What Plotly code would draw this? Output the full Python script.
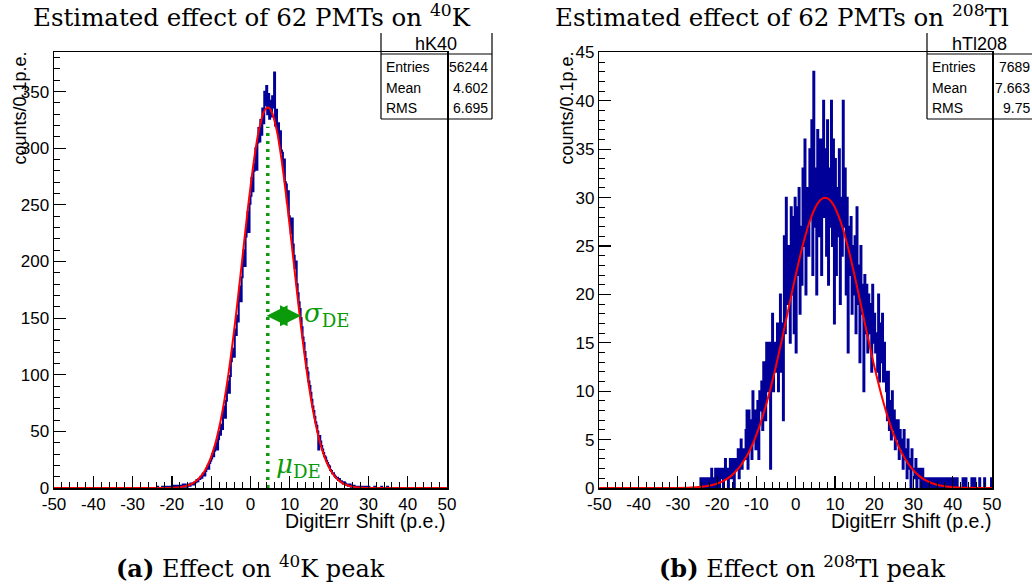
import plotly.graph_objects as go

# ---------------- data ----------------
K40_START = -25.0
BIN_W = 0.25
k40_counts = [
    0, 0, 0, 0,  0, 1, 0, 0,  0, 0, 1, 0,  1, 0, 0, 1,  0, 1, 1, 0,
    1, 0, 2, 1,  1, 2, 0, 1,  2, 1, 1, 3,  1, 3, 2, 1,  2, 3, 2, 4,
    3, 4, 3, 5,  5, 7, 6, 8,  8, 10, 9, 12,  13, 11, 15, 17,  19, 17, 22, 24,
    26, 30, 28, 33,  36, 40, 34, 43,  50, 47, 56, 52,  66, 72, 62, 77,  88, 94, 84, 99,
    112, 118, 123, 116,  140, 135, 152, 147,  168, 178, 165, 186,  198, 210, 196, 222,
    230, 244, 226, 251,  258, 274, 262, 280,  286, 300, 281, 305,  318, 306, 325, 312,
    335, 322, 350, 338,  355, 330, 348, 326,  342, 328, 346, 336,  367, 320, 334, 316,
    322, 305, 315, 298,  296, 282, 290, 270,  268, 252, 262, 240,  236, 225, 238, 215,
    205, 194, 200, 180,  172, 164, 158, 150,  142, 133, 128, 120,  114, 106, 102, 94,
    90, 84, 78, 72,  68, 63, 58, 55,  50, 34, 46, 41,  37, 34, 31, 28,  27, 24, 22, 20,
    19, 16, 15, 13,  13, 11, 10, 9,  9, 7, 8, 6,  6, 5, 4, 5,  4, 3, 3, 2,
    2, 3, 1, 2,  1, 2, 1, 1,  1, 0, 1, 1,  0, 1, 0, 1,  0, 0, 1, 0,
    1, 0, 0, 0,  0, 0, 1, 0,  0, 0, 0, 0,  0, 1, 0, 0,  0, 0, 0, 1,  0, 0, 0, 0,
]

TL_START = -25.0
tl_counts = [
    0, 0, 0, 1,  1, 0, 0, 1,  0, 1, 0, 0,  1, 0, 2, 1,  0, 1, 2, 0,
    2, 1, 0, 2,  1, 2, 0, 2,  3, 1, 2, 0,  2, 3, 1, 2,  3, 0, 2, 3,
    2, 4, 1, 3,  5, 2, 4, 3,  3, 6, 8, 2,  8, 4, 7, 3,  10, 5, 8, 4,
    6, 9, 3, 10,  8, 11, 6, 13,  9, 7, 15, 10,  12, 15, 2, 11,  18, 10, 15, 12,
    13, 17, 10, 16,  20, 12, 17, 7,  26, 16, 30, 19,  22, 25, 15, 29,  20, 28, 16, 30,
    14, 29, 22, 31,  18, 27, 21, 33,  25, 36, 20, 29,  31, 24, 35, 28,  38, 22, 43, 27,
    33, 20, 37, 30,  26, 36, 22, 32,  40, 28, 35, 24,  38, 21, 33, 27,  40, 25, 36, 17,
    34, 22, 31, 26,  35, 19, 30, 24,  40, 27, 33, 20,  30, 14, 27, 22,  28, 18, 25, 20,
    26, 16, 29, 19,  23, 13, 25, 18,  21, 10, 22, 16,  21, 14, 20, 16,  19, 12, 21, 15,
    18, 14, 16, 12,  20, 11, 17, 13,  18, 11, 15, 12,  10, 7, 12, 6,  9, 5, 10, 6,
    8, 4, 7, 5,  7, 3, 6, 4,  5, 2, 6, 3,  4, 1, 5, 2,  3, 0, 4, 2,
    2, 1, 3, 0,  2, 1, 2, 0,  1, 2, 0, 1,  1, 0, 1, 0,  0, 1, 0, 1,
    0, 0, 1, 0,  1, 0, 0, 1,  0, 1, 0, 0,  1, 0, 0, 1,  0, 0, 1, 0,
    0, 1, 0, 0,  1, 0, 0, 0,  0, 0, 1, 0,  0, 1, 0, 0,  0, 0, 0, 1,
    0, 0, 1, 0,  0, 0, 0, 1,  0, 0, 0, 0,  1, 0, 0, 0,  0, 0, 0, 1,
]

k40_fit_x = [-50, -21.6, -19.6, -17.6, -15.6, -14.6, -13.6, -12.6, -11.6, -10.6, -10.1,
             -9.6, -9.1, -8.6, -8.1, -7.6, -7.1, -6.6, -6.1, -5.6, -5.1, -4.6, -4.1,
             -3.6, -3.1, -2.6, -2.1, -1.6, -1.1, -0.6, -0.1, 0.4, 0.9, 1.4, 1.9, 2.4,
             2.9, 3.4, 3.9, 4.4, 4.9, 5.4, 5.9, 6.4, 6.9, 7.4, 7.9, 8.4, 8.9, 9.4, 9.9,
             10.4, 10.9, 11.4, 11.9, 12.4, 12.9, 13.4, 13.9, 14.4, 14.9, 15.4, 15.9,
             16.4, 16.9, 17.4, 17.9, 18.4, 18.9, 19.4, 20.4, 21.4, 22.4, 23.4, 24.4,
             26.4, 28.4, 30.4, 50]
k40_fit_y = [0, 0.1, 0.33, 1.0, 2.7, 4.4, 6.8, 10.4, 15.5, 22.5, 26.8,
             31.9, 37.6, 44, 51.4, 59.5, 68.5, 78.5, 89.3, 101, 113.6, 127, 141,
             155.7, 171, 186.5, 202, 218, 233.5, 249, 263, 277, 290, 301.5, 312, 320,
             327, 332, 335, 336, 335, 332, 327, 320, 312, 301.5, 290, 277, 263, 249, 233.5,
             218, 202, 186.5, 171, 155.7, 141, 127, 113.6, 101, 89.3, 78.5, 68.5,
             59.5, 51.4, 44, 37.6, 31.9, 26.8, 22.5, 15.5, 10.4, 6.8, 4.4, 2.7,
             1.0, 0.33, 0.1, 0]

tl_fit_x = [-50, -32.5, -26.5, -22.5, -20.5, -18.5, -16.5, -14.5, -12.5, -11.5, -10.5,
            -9.5, -8.5, -7.5, -6.5, -5.5, -4.5, -3.5, -2.5, -1.5, -0.5, 0.5, 1.5, 2.5,
            3.5, 4.5, 5.5, 6.5, 7.5, 8.5, 9.5, 10.5, 11.5, 12.5, 13.5, 14.5, 15.5, 16.5,
            17.5, 18.5, 19.5, 20.5, 21.5, 22.5, 23.5, 24.5, 25.5, 26.5, 27.5, 29.5, 31.5,
            33.5, 35.5, 37.5, 41.5, 47.5, 50]
tl_fit_y = [0, 0, 0.05, 0.2, 0.39, 0.71, 1.23, 2.05, 3.27, 4.06, 4.98,
            6.05, 7.26, 8.63, 10.13, 11.76, 13.51, 15.35, 17.24, 19.15, 21.04, 22.87, 24.58, 26.12,
            27.46, 28.54, 29.34, 29.83, 30, 29.83, 29.34, 28.54, 27.46, 26.12, 24.58, 22.87, 21.04, 19.15,
            17.24, 15.35, 13.51, 11.76, 10.13, 8.63, 7.26, 6.05, 4.98, 4.06, 3.27, 2.05, 1.23,
            0.71, 0.39, 0.2, 0.05, 0, 0]

k40_mu = 4.4
k40_mu_line_top = 319
k40_sigma_arrow = (3.7, 12.85, 152)

k40_stats = [("Entries", "56244"), ("Mean", "4.602"), ("RMS", "6.695")]
tl_stats = [("Entries", "7689"), ("Mean", "7.663"), ("RMS", "9.75")]

x_ticks = [-50, -40, -30, -20, -10, 0, 10, 20, 30, 40, 50]
x_tick_labels = ["-50", "-40", "-30", "-20", "-10", "0", "10", "20", "30", "40", "50"]

# ---------------- figure ----------------
W, H = 1032, 588
BLUE = "#000099"
RED = "#ff0000"
GREEN = "#0a9a0a"
SERIF = "DejaVu Serif"
SANS = "Liberation Sans"


def px(x):
    return x / W


def py(y):
    return 1 - y / H


def hist_xy(start, counts):
    xs = [-50]
    ys = [0]
    for i, c in enumerate(counts):
        xs.append(start + i * BIN_W)
        ys.append(c)
    xs.append(start + len(counts) * BIN_W)
    ys.append(0)
    xs.append(50)
    ys.append(0)
    return xs, ys


fig = go.Figure()

hx, hy = hist_xy(K40_START, k40_counts)
fig.add_trace(go.Scatter(x=hx, y=hy, mode="lines", line=dict(color=BLUE, width=2, shape="hv"),
                         xaxis="x", yaxis="y", hoverinfo="skip"))
fig.add_trace(go.Scatter(x=k40_fit_x, y=k40_fit_y, mode="lines",
                         line=dict(color=RED, width=2, shape="spline", smoothing=0.6),
                         xaxis="x", yaxis="y", hoverinfo="skip"))
fig.add_trace(go.Scatter(x=[k40_mu, k40_mu], y=[0, k40_mu_line_top], mode="lines",
                         line=dict(color=GREEN, width=3.5, dash="3px,5px"),
                         xaxis="x", yaxis="y", hoverinfo="skip"))

tx, ty = hist_xy(TL_START, tl_counts)
fig.add_trace(go.Scatter(x=tx, y=ty, mode="lines", line=dict(color=BLUE, width=2, shape="hv"),
                         xaxis="x2", yaxis="y2", hoverinfo="skip"))
fig.add_trace(go.Scatter(x=tl_fit_x, y=tl_fit_y, mode="lines",
                         line=dict(color=RED, width=2, shape="spline", smoothing=0.6),
                         xaxis="x2", yaxis="y2", hoverinfo="skip"))

axis_common = dict(
    showline=True, mirror=True, linecolor="black", linewidth=1.5,
    ticks="inside", ticklen=12, tickwidth=1.2, tickcolor="black",
    showgrid=False, zeroline=False, automargin=False,
    tickfont=dict(family=SANS, size=17, color="black"),
)

ydom = [py(488), py(52)]
fig.update_layout(
    width=W, height=H, autosize=False,
    margin=dict(l=0, r=0, t=0, b=0, pad=0, autoexpand=False),
    paper_bgcolor="white", plot_bgcolor="white",
    showlegend=False,
    xaxis=dict(domain=[px(54), px(447)], range=[-50, 50], tickvals=x_ticks, ticktext=x_tick_labels,
               minor=dict(ticks="inside", ticklen=6, dtick=2, tickcolor="black", tickwidth=1),
               anchor="y", **axis_common),
    yaxis=dict(domain=ydom, range=[0, 385], dtick=50, tick0=0,
               minor=dict(ticks="inside", ticklen=6, dtick=10, tickcolor="black", tickwidth=1),
               anchor="x", **axis_common),
    xaxis2=dict(domain=[px(599.3), px(992)], range=[-50, 50], tickvals=x_ticks, ticktext=x_tick_labels,
                minor=dict(ticks="inside", ticklen=6, dtick=2, tickcolor="black", tickwidth=1),
                anchor="y2", **axis_common),
    yaxis2=dict(domain=ydom, range=[0, 45.05], dtick=5, tick0=0,
                minor=dict(ticks="inside", ticklen=6, dtick=1, tickcolor="black", tickwidth=1),
                anchor="x2", **axis_common),
)

ann = []


def text(x, y, s, size, family=SANS, color="black", xanchor="center", yanchor="middle", angle=0):
    ann.append(dict(x=px(x), y=py(y), xref="paper", yref="paper", text=s, showarrow=False,
                    font=dict(family=family, size=size, color=color),
                    xanchor=xanchor, yanchor=yanchor, textangle=angle))


# titles
text(251.5, 16, "Estimated effect of 62 PMTs on <sup>40</sup>K", 24.5, SERIF)
text(781.5, 16, "Estimated effect of 62 PMTs on <sup>208</sup>Tl", 24.5, SERIF)
# captions
text(250.5, 567, "<b>(a)</b> Effect on <sup>40</sup>K peak", 24, SERIF)
text(802, 567, "<b>(b)</b> Effect on <sup>208</sup>Tl peak", 24, SERIF)
# axis titles
text(447, 521, "DigitErr Shift (p.e.)", 19.5, xanchor="right")
text(993, 521, "DigitErr Shift (p.e.)", 19.5, xanchor="right")
text(19, 50, "counts/0.1p.e.", 18, yanchor="top", angle=-90)
text(566, 50, "counts/0.1p.e.", 18, yanchor="top", angle=-90)
# mu / sigma labels
text(274, 465, "<i>μ</i><sub>DE</sub>", 26, SERIF, GREEN, xanchor="left")
text(302, 314, "<i>σ</i><sub>DE</sub>", 26, SERIF, GREEN, xanchor="left")

# stats boxes
shapes = []


def stats_box(x0, x1, name, rows):
    line = dict(color="black", width=1.2)
    shapes.append(dict(type="line", xref="paper", yref="paper", x0=px(x0), x1=px(x0), y0=py(33), y1=py(119), line=line))
    shapes.append(dict(type="line", xref="paper", yref="paper", x0=px(x1), x1=px(x1), y0=py(33), y1=py(119), line=line))
    shapes.append(dict(type="line", xref="paper", yref="paper", x0=px(x0), x1=px(x1), y0=py(119), y1=py(119), line=line))
    shapes.append(dict(type="line", xref="paper", yref="paper", x0=px(x0), x1=px(x1), y0=py(54), y1=py(54), line=line))
    text((x0 + x1) / 2 - 1, 44, name, 18)
    for i, (k, v) in enumerate(rows):
        yy = 67 + i * 20.5
        text(x0 + 3, yy, k, 14, xanchor="left")
        text(x1 - 2, yy, v, 14, xanchor="right")


stats_box(381, 492, "hK40", k40_stats)
stats_box(927, 1034, "hTl208", tl_stats)

# sigma arrow
a0, a1, ay = k40_sigma_arrow
ann.append(dict(x=a1, y=ay, ax=a0, ay=ay, xref="x", yref="y", axref="x", ayref="y",
                text="", showarrow=True, arrowhead=2, startarrowhead=2, arrowside="end+start",
                arrowsize=1.4, startarrowsize=1.4, arrowwidth=3, arrowcolor=GREEN, standoff=0, startstandoff=0))

fig.update_layout(annotations=ann, shapes=shapes)
fig.write_html("out.html", config={"displayModeBar": False, "staticPlot": True},
               post_script="document.body.style.margin='0px';document.body.style.overflow='hidden';")
